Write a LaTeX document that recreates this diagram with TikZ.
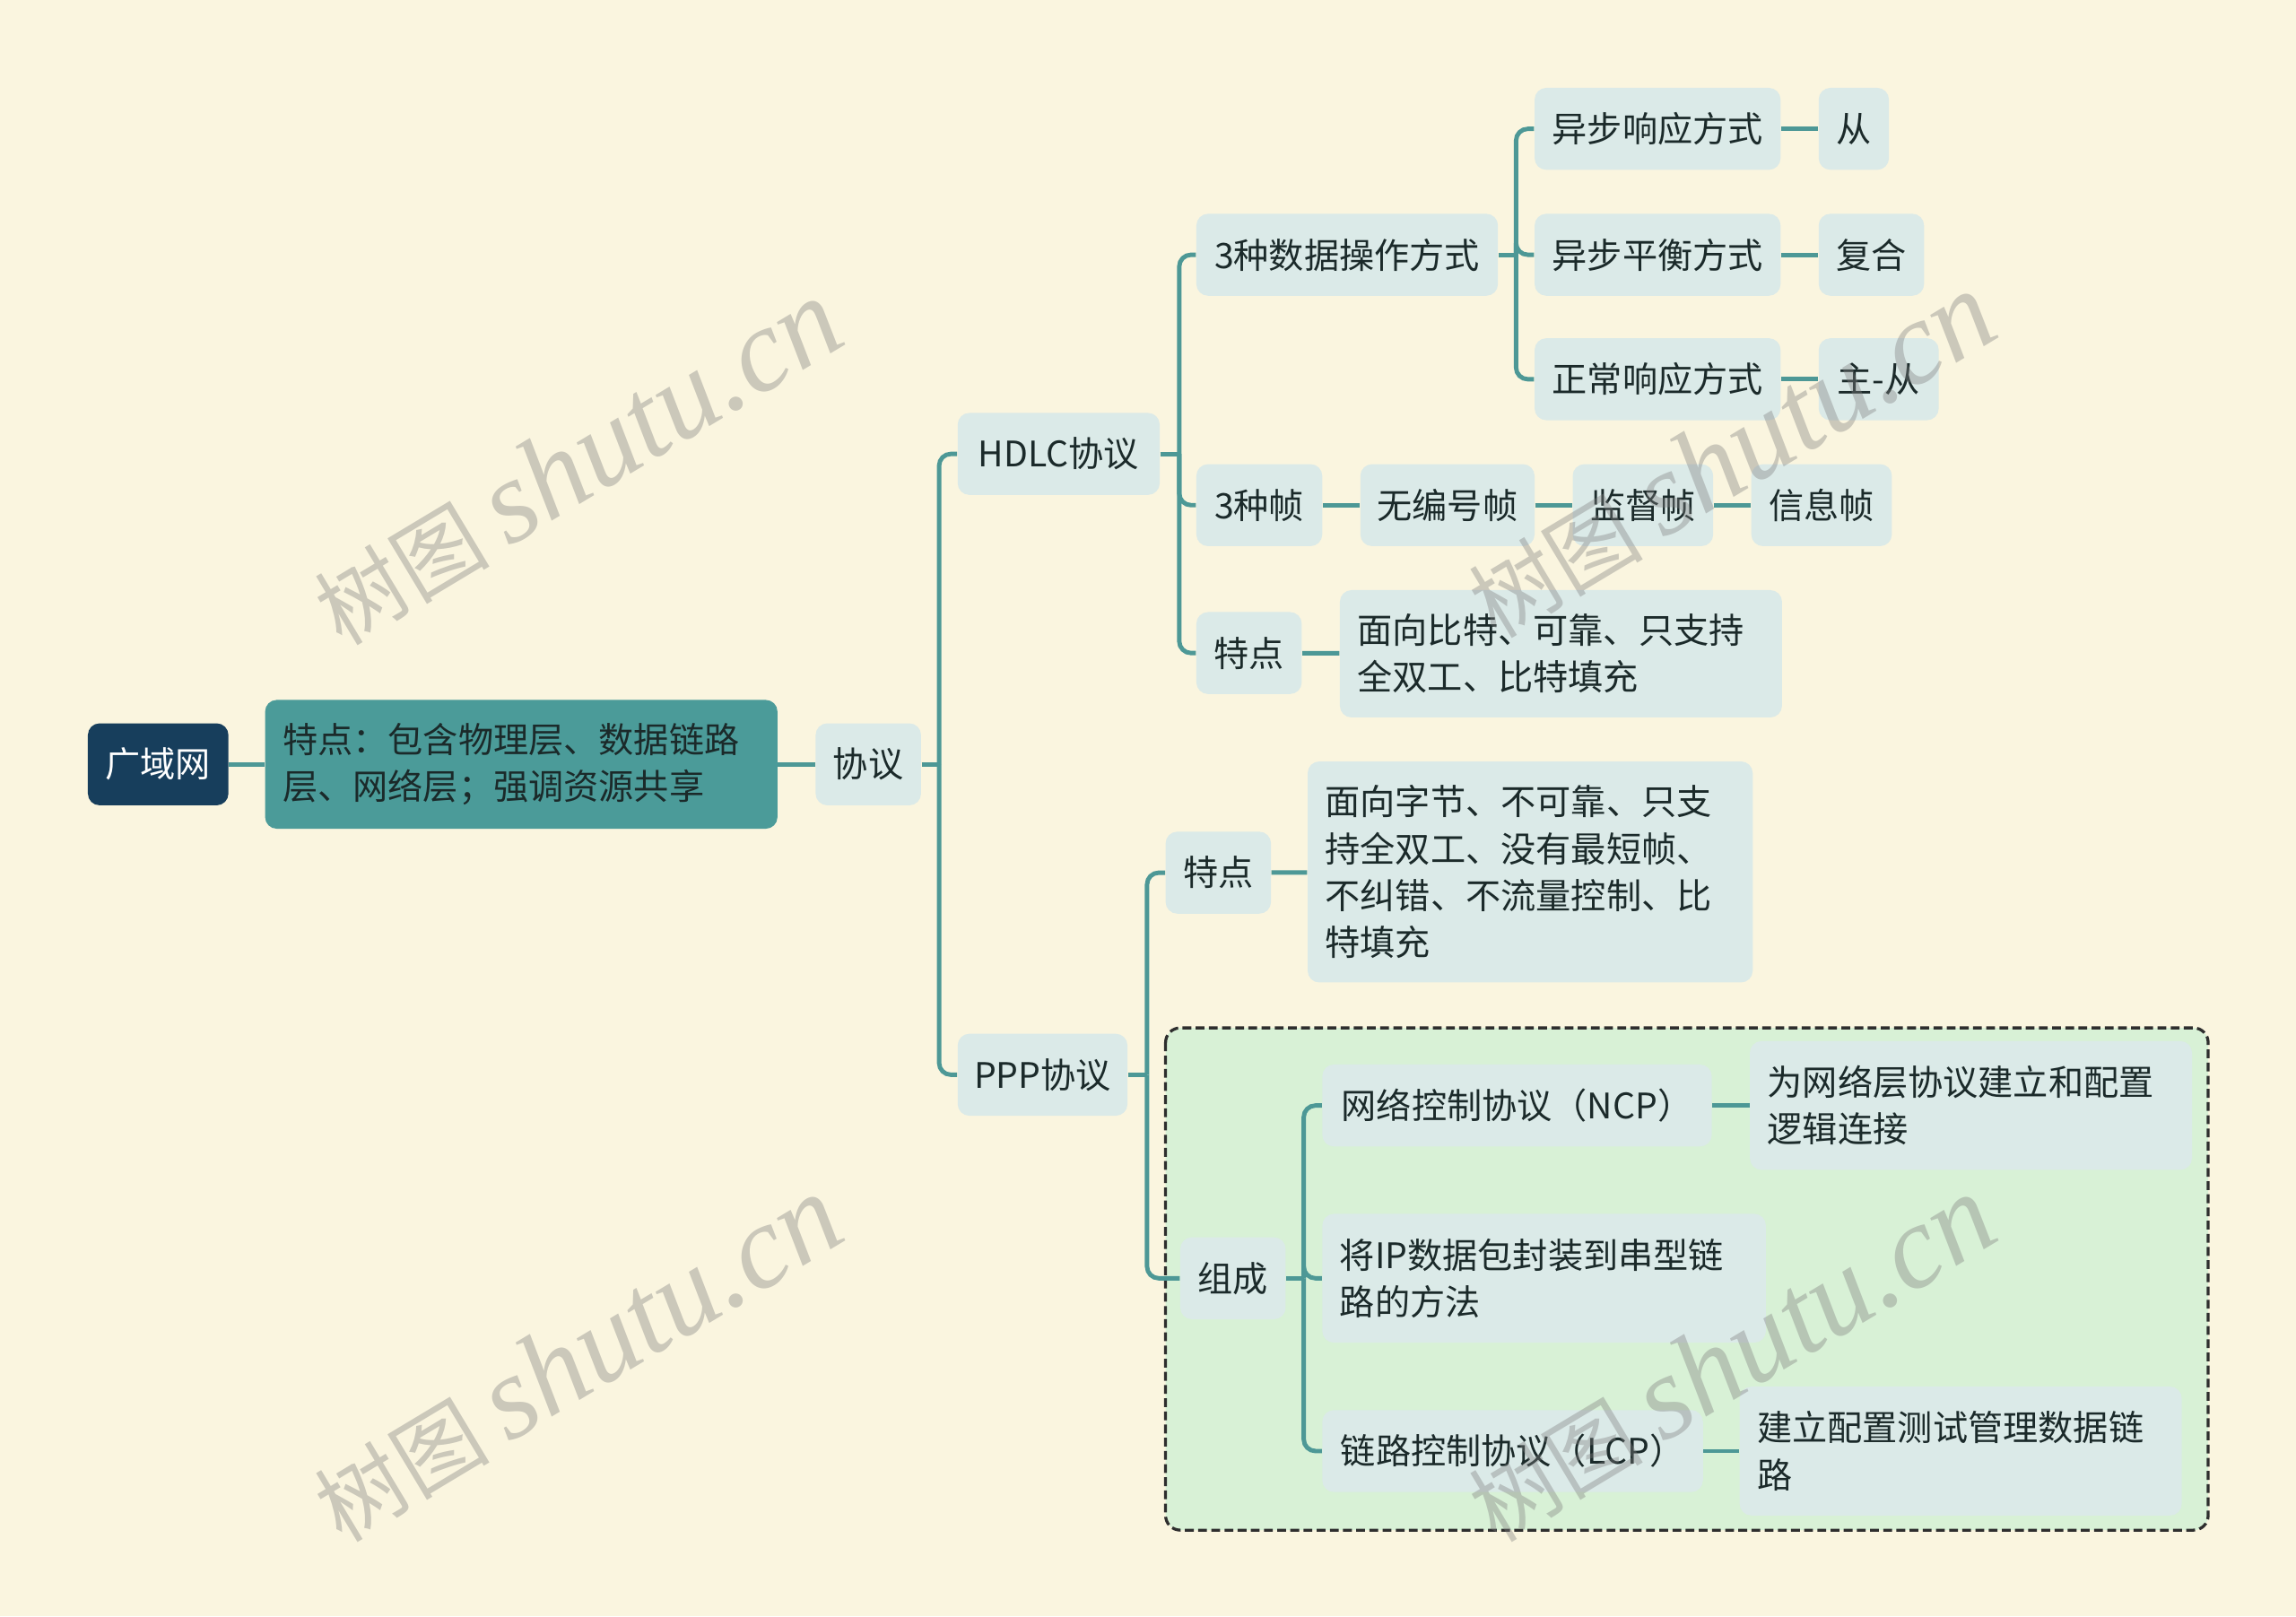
\documentclass[tikz,border=0pt]{standalone}
\usepackage{fontspec}
\newfontfamily\cjk{Noto Sans CJK SC}
\newfontfamily\wmserif{Liberation Serif}
\usetikzlibrary{calc}
\definecolor{bgc}{HTML}{FAF5DF}
\definecolor{nodefill}{HTML}{DBEAE8}
\definecolor{rootfill}{HTML}{173E5C}
\definecolor{mainfill}{HTML}{4B9B99}
\definecolor{linec}{HTML}{4D9896}
\definecolor{txt}{HTML}{1B2A2A}
\definecolor{grp}{HTML}{D8F1D6}
\definecolor{grpline}{HTML}{2E2E2E}
\definecolor{wmc}{HTML}{7F7F7F}
\begin{document}
\begin{tikzpicture}[x=0.02cm,y=-0.02cm,
  box/.style={rounded corners=0.16cm, fill=nodefill, text=txt, inner sep=0pt,
    minimum height=1.12cm, font=\cjk\fontsize{13.66}{18.2}\selectfont},
  mbox/.style={box, align=left, inner xsep=0.24cm},
  conn/.style={draw=linec, line width=0.06cm},
  elbow/.style={conn, rounded corners=0.16cm},
  wm/.style={text=wmc, opacity=0.38, rotate=31, inner sep=0pt}
]
% background and bounding box
\fill[bgc] (0,0) rectangle (1568,1104);
\useasboundingbox (0,0) rectangle (1568,1104);

% dashed group
\draw[fill=grp, draw=grpline, line width=0.04cm, dash pattern=on 0.12cm off 0.06cm, rounded corners=0.2cm]
  (796,702) rectangle (1508,1045);

% nodes
\node[box, fill=rootfill, text=white, minimum width=1.92cm] (root) at (108,522) {广域网};
\node[mbox, fill=mainfill, text width=6.52cm, minimum height=1.76cm] (main) at (356,522)
  {特点：包含物理层、数据链路\\层、网络层；强调资源共享};
\node[box, minimum width=1.44cm] (xieyi) at (593,522) {协议};
\node[box, minimum width=2.76cm] (hdlc) at (723,310) {HDLC协议};
\node[box, minimum width=2.32cm] (ppp) at (712,734) {PPP协议};

\node[box, minimum width=4.12cm] (mode) at (920,174) {3种数据操作方式};
\node[box, minimum width=3.36cm] (m1) at (1132,88) {异步响应方式};
\node[box, minimum width=0.96cm] (m1a) at (1266,88) {从};
\node[box, minimum width=3.36cm] (m2) at (1132,174) {异步平衡方式};
\node[box, minimum width=1.44cm] (m2a) at (1278,174) {复合};
\node[box, minimum width=3.36cm] (m3) at (1132,259) {正常响应方式};
\node[box, minimum width=1.64cm] (m3a) at (1283,259) {主-从};

\node[box, minimum width=1.72cm] (frame) at (860,345) {3种帧};
\node[box, minimum width=2.38cm] (f1) at (988.5,345) {无编号帧};
\node[box, minimum width=1.92cm] (f2) at (1122,345) {监督帧};
\node[box, minimum width=1.92cm] (f3) at (1244,345) {信息帧};

\node[box, minimum width=1.44cm] (hf) at (853,446) {特点};
\node[mbox, text width=5.56cm, minimum height=1.74cm] (hft) at (1066,446.5)
  {面向比特、可靠、只支持\\全双工、比特填充};

\node[box, minimum width=1.44cm] (pf) at (832,596) {特点};
\node[mbox, text width=5.6cm, minimum height=3.02cm] (pft) at (1045,595.5)
  {面向字节、不可靠、只支\\持全双工、没有最短帧、\\不纠错、不流量控制、比\\特填充};

\node[box, minimum width=1.44cm] (zc) at (842,873) {组成};
\node[box, minimum width=5.32cm] (ncp) at (1036,755) {网络控制协议（NCP）};
\node[mbox, text width=5.56cm, minimum height=1.76cm] (ncpt) at (1346,755)
  {为网络层协议建立和配置\\逻辑连接};
\node[mbox, text width=5.58cm, minimum height=1.76cm] (ip) at (1054.5,873)
  {将IP数据包封装到串型链\\路的方法};
\node[box, minimum width=5.2cm] (lcp) at (1033,991) {链路控制协议（LCP）};
\node[mbox, text width=5.56cm, minimum height=1.76cm] (lcpt) at (1339,991)
  {建立配置测试管理数据链\\路};

% connectors
\draw[conn] (root) -- (main);
\draw[conn] (main) -- (xieyi);

\coordinate (t0) at ($(xieyi.east)+(12,0)$);
\draw[conn] (xieyi.east) -- (t0);
\draw[elbow] (t0) |- (hdlc.west);
\draw[elbow] (t0) |- (ppp.west);

\coordinate (t1) at ($(hdlc.east)+(13,0)$);
\draw[conn] (hdlc.east) -- (t1);
\draw[elbow] (t1) |- (mode.west);
\draw[elbow] (t1) |- (frame.west);
\draw[elbow] (t1) |- (hf.west);

\coordinate (t2) at ($(mode.east)+(12,0)$);
\draw[conn] (mode.east) -- (t2);
\draw[elbow] (t2) |- (m1.west);
\draw[elbow] (t2) |- (m2.west);
\draw[elbow] (t2) |- (m3.west);

\draw[conn] (m1) -- (m1a);
\draw[conn] (m2) -- (m2a);
\draw[conn] (m3) -- (m3a);

\draw[conn] (frame) -- (f1);
\draw[conn] (f1) -- (f2);
\draw[conn] (f2) -- (f3);
\draw[conn] (hf) -- (hft);

\coordinate (t3) at ($(ppp.east)+(13,0)$);
\draw[conn] (ppp.east) -- (t3);
\draw[elbow] (t3) |- (pf.west);
\draw[elbow] (t3) |- (zc.west);
\draw[conn] (pf) -- (pft);

\coordinate (t4) at ($(zc.east)+(12,0)$);
\draw[conn] (zc.east) -- (t4);
\draw[elbow] (t4) |- (ncp.west);
\draw[elbow] (t4) |- (ip.west);
\draw[elbow] (t4) |- (lcp.west);
\draw[conn] (ncp) -- (ncpt);
\draw[conn] (lcp) -- (lcpt);

% watermarks
\foreach \wx/\wy [count=\i] in {394/316, 1182/311, 394/928, 1182/928}{
  \node[wm] (wm\i) at (\wx,\wy) {\cjk\fontsize{34}{38}\selectfont 树图 \wmserif\itshape\fontsize{46}{50}\selectfont shutu.cn};
}
\end{tikzpicture}
\end{document}
